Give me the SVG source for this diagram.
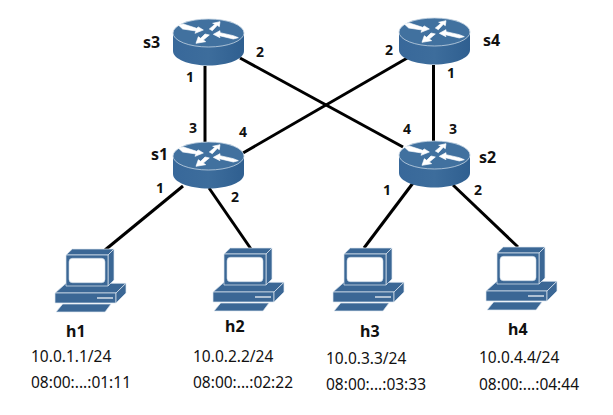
<svg xmlns="http://www.w3.org/2000/svg" width="613" height="415" viewBox="0 0 613 415">
<style>
.l{stroke:#000;stroke-width:3;fill:none}
.t{font-family:"Noto Sans","Open Sans",sans-serif;font-size:15.500px;fill:#111}
.b{font-family:"Noto Sans","Open Sans",sans-serif;font-size:14px;font-weight:700;fill:#111}
.n{font-family:"Noto Sans","Open Sans",sans-serif;font-size:16px;font-weight:700;fill:#111}
.p{fill:#3b6795;stroke:#dfe8f0;stroke-width:.7;stroke-linejoin:round}
</style>
<defs>
<linearGradient id="side" x1="0" x2="1" y1="0" y2="0"><stop offset="0" stop-color="#38689a"/><stop offset=".5" stop-color="#3d6d9c"/><stop offset="1" stop-color="#2f5f90"/></linearGradient>
<g id="router">
<path d="M0 14V32C0 40 15.700 46.500 35.500 46.500S71 40 71 32V14Z" fill="url(#side)"/>
<ellipse cx="35.500" cy="14" rx="35.500" ry="14" fill="#41719f" stroke="#c3d3e2" stroke-width=".8"/>
<g fill="#fff" stroke="#fff" stroke-width="2" stroke-linejoin="round" transform="translate(-3 -4) scale(.3333)">
<path d="M25 30L40 27L80 40L85 36L100 45L75 55L78 48L38 42Z"/>
<path d="M118 42L135 28L128 25L150 20L148 35L142 31L127 47Z"/>
<path d="M130 58L150 47L150 53L190 62L205 68L190 72L148 62L150 68Z"/>
<path d="M78 85L85 65L92 70L105 57L118 60L100 75L107 80Z"/>
</g>
</g>
<g id="pc">
<path class="p" d="M0 53L11 43.300H71L61 53Z"/>
<rect class="p" x="0" y="53" width="61" height="10"/>
<path class="p" d="M61 53L71 43.300V53L61 63Z"/>
<path d="M42 58H58" stroke="#fff" stroke-width="1.200"/>
<path class="p" d="M11 15L17.300 9H59L53 15Z"/>
<path class="p" d="M53 15L59 9V40L53 46Z"/>
<rect class="p" x="11" y="15" width="42" height="31"/>
<rect x="14" y="18.300" width="36" height="24.400" rx="3.500" fill="#fff" stroke="#c9d7e4" stroke-width=".6"/>
<path class="p" d="M1 72L7.700 64H56L50 72Z"/>
</g>
</defs>
<g id="connectors">
<path class="l" d="M205 66V142"/>
<path class="l" d="M433.500 65V141"/>
<path class="l" d="M240 58L403 147"/>
<path class="l" d="M409 57L243 153"/>
<path class="l" d="M183 186L105 250"/>
<path class="l" d="M209 188L251 249"/>
<path class="l" d="M413 183L364 248"/>
<path class="l" d="M453 185L518 247"/>
</g>
<g id="s3"><use href="#router" x="173" y="19"/><text class="n" x="143" y="48">s3</text></g>
<g id="s4"><use href="#router" x="399" y="18"/><text class="n" x="483" y="46">s4</text></g>
<g id="s1"><use href="#router" x="173" y="142"/><text class="n" x="151" y="160">s1</text></g>
<g id="s2"><use href="#router" x="399" y="141"/><text class="n" x="479" y="163">s2</text></g>
<g id="h1"><use href="#pc" x="55" y="240"/><text class="n" x="66" y="337">h1</text><text class="t" x="31" y="362">10.0.1.1/24</text><text class="t" x="31" y="388">08:00:...:01:11</text></g>
<g id="h2"><use href="#pc" x="213" y="239"/><text class="n" x="225" y="332">h2</text><text class="t" x="193" y="362">10.0.2.2/24</text><text class="t" x="193" y="388">08:00:...:02:22</text></g>
<g id="h3"><use href="#pc" x="333" y="239"/><text class="n" x="360" y="337">h3</text><text class="t" x="326" y="364">10.0.3.3/24</text><text class="t" x="326" y="390">08:00:...:03:33</text></g>
<g id="h4"><use href="#pc" x="486" y="238"/><text class="n" x="508" y="335">h4</text><text class="t" x="479" y="363">10.0.4.4/24</text><text class="t" x="479" y="390">08:00:...:04:44</text></g>
<g id="labels">
<text class="b" x="186" y="82">1</text><text class="b" x="256" y="57">2</text>
<text class="b" x="385" y="55">2</text><text class="b" x="447" y="78">1</text>
<text class="b" x="189" y="133">3</text><text class="b" x="239" y="137">4</text>
<text class="b" x="156" y="193">1</text><text class="b" x="231" y="202">2</text>
<text class="b" x="403" y="134">4</text><text class="b" x="449" y="134">3</text>
<text class="b" x="383" y="195">1</text><text class="b" x="474" y="195">2</text>
</g>
</svg>
